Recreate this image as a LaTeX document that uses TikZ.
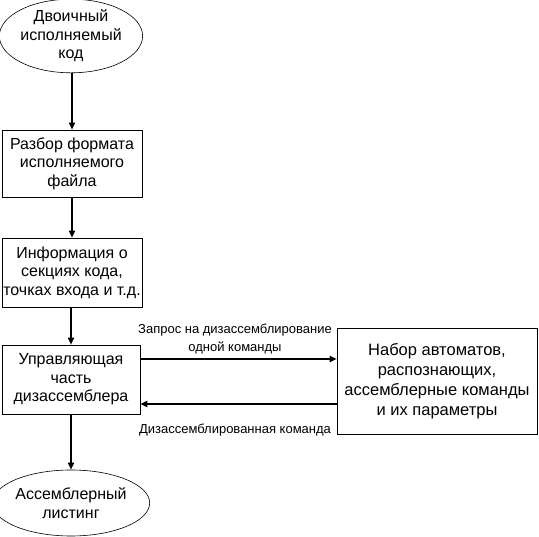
\documentclass[tikz,border=0pt]{standalone}
\usepackage{fontspec}
\setmainfont{Liberation Sans}
\usetikzlibrary{shapes.geometric,arrows.meta}
\begin{document}
\begin{tikzpicture}[x=1pt,y=-1pt,
  txt/.style={font=\fontsize{16}{18.5}\selectfont, align=center, inner sep=0pt},
  oval/.style={txt, draw, ellipse, line width=0.6pt},
  blk/.style={txt, draw, rectangle, line width=0.6pt},
  lbl/.style={font=\fontsize{13}{17.5}\selectfont, align=center, inner sep=0pt},
  arr/.style={line width=1.6pt, -{Triangle[length=7pt,width=6pt]}}]
\useasboundingbox (0,0) rectangle (539,537);
\node[oval, minimum width=133pt, minimum height=71pt] (e1) at (71,36) {Двоичный\\исполняемый\\код};
\node[blk, minimum width=140pt, minimum height=67pt] (b1) at (72,163.5) {Разбор формата\\исполняемого\\файла};
\node[blk, minimum width=140pt, minimum height=69pt] (b2) at (72,272.5) {Информация о\\секциях кода,\\точках входа и т.д.};
\node[blk, minimum width=138pt, minimum height=69pt] (b3) at (71,379.5) {Управляющая\\часть\\дизассемблера};
\node[blk, minimum width=200pt, minimum height=106pt, font=\fontsize{16.5}{20}\selectfont] (b4) at (437,381) {Набор автоматов,\\распознающих,\\ассемблерные команды\\и их параметры};
\node[oval, minimum width=132pt, minimum height=66pt] (e2) at (71,503) {Ассемблерный\\листинг};
\node[lbl] (l1) at (235,339) {Запрос на дизассемблирование\\одной команды};
\node[lbl] (l2) at (235,430) {Дизассемблированная команда};
\draw[arr] (e1.south -| b1.north) -- (b1.north);
\draw[arr] (b1) -- (b2);
\draw[arr] (b2.south -| b3.north) -- (b3.north);
\draw[arr] (b3) -- (e2);
\draw[arr] ([yshift=20.5pt]b3.east) -- ([yshift=20.5pt]b3.east -| b4.west);
\draw[arr] ([yshift=-24.5pt]b3.east -| b4.west) -- ([yshift=-24.5pt]b3.east);
\end{tikzpicture}
\end{document}
